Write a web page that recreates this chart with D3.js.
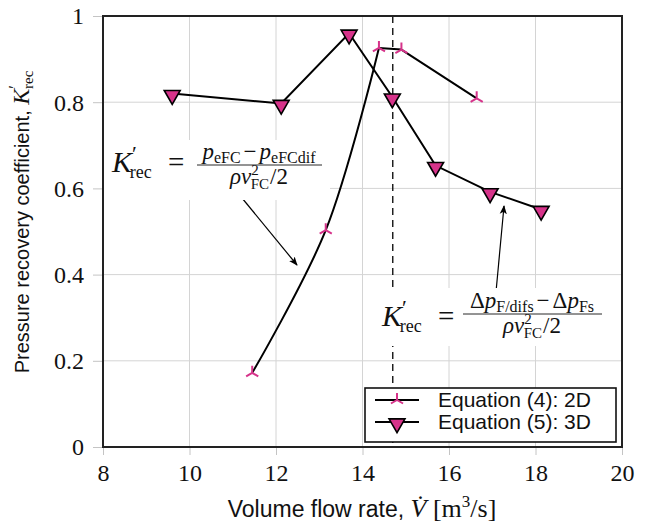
<!DOCTYPE html>
<html><head><meta charset="utf-8">
<script src="https://cdn.jsdelivr.net/npm/d3@7"></script>
<style>
html,body{margin:0;padding:0;background:#fff;}
svg{display:block;}
</style></head>
<body>
<svg id="chart" width="646" height="526"></svg>
<script>
// ---- data ----
const xTicks = [8, 10, 12, 14, 16, 18, 20];
const xTickLabels = ["8", "10", "12", "14", "16", "18", "20"];
const yTicks = [0, 0.2, 0.4, 0.6, 0.8, 1];
const yTickLabels = ["0", "0.2", "0.4", "0.6", "0.8", "1"];
const flow2D = [11.45, 13.15, 14.38, 14.9, 16.64];
const k2D = [0.172, 0.503, 0.926, 0.922, 0.809];
const flow3D = [9.6, 12.12, 13.69, 14.69, 15.69, 16.95, 18.13];
const k3D = [0.82, 0.797, 0.96, 0.812, 0.653, 0.592, 0.551];
const designFlow = [14.7];
const seriesNames = ["Equation (4): 2D", "Equation (5): 3D"];

const pink = "#d6338a";
const svg = d3.select("#chart");
const M = {left: 103, right: 622, top: 16, bottom: 447};
const x = d3.scaleLinear().domain([8, 20]).range([M.left, M.right]);
const y = d3.scaleLinear().domain([0, 1]).range([M.bottom, M.top]);
const serif = "'Liberation Serif', 'Times New Roman', serif";
const sans = "'Liberation Sans', Arial, Helvetica, sans-serif";

// grid
const grid = svg.append("g");
grid.selectAll(".gx").data(xTicks.slice(1, -1)).enter().append("line")
  .attr("x1", d => x(d)).attr("x2", d => x(d)).attr("y1", M.top).attr("y2", M.bottom)
  .attr("stroke", "#d4d4d4").attr("stroke-width", 1);
grid.selectAll(".gy").data(yTicks.slice(1, -1)).enter().append("line")
  .attr("y1", d => y(d)).attr("y2", d => y(d)).attr("x1", M.left).attr("x2", M.right)
  .attr("stroke", "#d4d4d4").attr("stroke-width", 1);

// axes via d3 axis
const xAxis = svg.append("g").attr("transform", `translate(0,${M.bottom})`)
  .call(d3.axisBottom(x).tickValues(xTicks).tickFormat((d, i) => xTickLabels[i]).tickSize(8).tickPadding(8));
const yAxis = svg.append("g").attr("transform", `translate(${M.left},0)`)
  .call(d3.axisLeft(y).tickValues(yTicks).tickFormat((d, i) => yTickLabels[i]).tickSize(10).tickPadding(9));
[xAxis, yAxis].forEach(a => {
  a.select(".domain").remove();
  a.selectAll(".tick line").attr("stroke", "#c4c4c4");
  a.selectAll(".tick text").attr("font-family", serif).attr("font-size", 24).attr("fill", "#111");
});
xAxis.selectAll(".tick text").attr("dy", "0.75em");
yAxis.selectAll(".tick text").attr("dy", "0.33em");

// dashed design line
svg.selectAll(".design").data(designFlow).enter().append("line")
  .attr("x1", d => x(d)).attr("x2", d => x(d)).attr("y1", M.top).attr("y2", M.bottom)
  .attr("stroke", "#000").attr("stroke-width", 1.3).attr("stroke-dasharray", "7,5");

// series lines
const pts2 = flow2D.map((f, i) => [f, k2D[i]]);
const pts3 = flow3D.map((f, i) => [f, k3D[i]]);
const lineSmooth = d3.line().x(d => x(d[0])).y(d => y(d[1])).curve(d3.curveCatmullRom.alpha(0.5));
const lineStraight = d3.line().x(d => x(d[0])).y(d => y(d[1]));
svg.append("path").attr("d", lineSmooth(pts2.slice(0, 3)) + lineStraight(pts2.slice(2)).replace(/^M/, "L"))
  .attr("fill", "none").attr("stroke", "#000").attr("stroke-width", 2).attr("stroke-linejoin", "round");
svg.append("path").attr("d", lineStraight(pts3)).attr("fill", "none").attr("stroke", "#000").attr("stroke-width", 2);

// marker helpers
function triMarker(g, cx, cy) {
  g.append("path").attr("d", d3.symbol(d3.symbolTriangle, 110)())
    .attr("transform", `translate(${cx},${cy + 1.5}) rotate(180)`)
    .attr("fill", pink).attr("stroke", "#000").attr("stroke-width", 1.6).attr("stroke-linejoin", "miter");
}
function yMarker(g, cx, cy) {
  const r = 7;
  const path = `M${cx},${cy}L${cx},${cy - r}M${cx},${cy}L${cx - r * 0.866},${cy + r * 0.5}M${cx},${cy}L${cx + r * 0.866},${cy + r * 0.5}`;
  g.append("path").attr("d", path).attr("stroke", pink).attr("stroke-width", 2).attr("fill", "none");
}
const mk = svg.append("g");
pts2.forEach(p => yMarker(mk, x(p[0]), y(p[1])));
pts3.forEach(p => triMarker(mk, x(p[0]), y(p[1])));

// frame
svg.append("rect").attr("x", M.left).attr("y", M.top).attr("width", M.right - M.left).attr("height", M.bottom - M.top)
  .attr("fill", "none").attr("stroke", "#222").attr("stroke-width", 2);

// arrows
const defs = svg.append("defs");
defs.append("marker").attr("id", "ah").attr("viewBox", "0 0 10 10").attr("refX", 9).attr("refY", 5)
  .attr("markerWidth", 9).attr("markerHeight", 9).attr("orient", "auto").attr("markerUnits", "userSpaceOnUse")
  .append("path").attr("d", "M0,1 L10,5 L0,9 L2.5,5 Z").attr("fill", "#000");
svg.append("line").attr("x1", 242).attr("y1", 198).attr("x2", 297).attr("y2", 265)
  .attr("stroke", "#000").attr("stroke-width", 1.2).attr("marker-end", "url(#ah)");
svg.append("line").attr("x1", 496).attr("y1", 292).attr("x2", 504).attr("y2", 206)
  .attr("stroke", "#000").attr("stroke-width", 1.2).attr("marker-end", "url(#ah)");

// formula helper
function addK(g, xk, base) {
  const t = g.append("text").attr("x", xk).attr("y", base).attr("font-family", serif).attr("fill", "#111");
  t.append("tspan").attr("font-size", 30).attr("font-style", "italic").text("K");
  t.append("tspan").attr("font-size", 22).attr("dy", -11).attr("dx", 0).text("′");
  t.append("tspan").attr("font-size", 18).attr("dy", 17).attr("dx", -7).text("rec");
  g.append("text").attr("x", xk + 56).attr("y", base).attr("font-family", serif).attr("font-size", 29).attr("fill", "#111").text("=");
}
function frac(g, cx, barY, x1, x2, numParts, denParts) {
  const n = g.append("text").attr("x", cx).attr("y", barY - 6).attr("text-anchor", "middle").attr("font-family", serif).attr("fill", "#111");
  numParts.forEach(p => n.append("tspan").attr("font-size", p.s).attr("font-style", p.i ? "italic" : null).attr("dy", p.dy || 0).attr("dx", p.dx || 0).text(p.t));
  g.append("line").attr("x1", x1).attr("x2", x2).attr("y1", barY).attr("y2", barY).attr("stroke", "#111").attr("stroke-width", 0.9);
  const d = g.append("text").attr("x", cx).attr("y", barY + 19).attr("text-anchor", "middle").attr("font-family", serif).attr("fill", "#111");
  denParts.forEach(p => d.append("tspan").attr("font-size", p.s).attr("font-style", p.i ? "italic" : null).attr("dy", p.dy || 0).attr("dx", p.dx || 0).text(p.t));
}
const den = [
  {t: "ρv", s: 23, i: true},
  {t: "2", s: 15, dy: -9},
  {t: "FC", s: 15, dy: 14, dx: -8},
  {t: "/2", s: 23, dy: -5, dx: 1}
];

// formula 1
const f1 = svg.append("g");
f1.append("rect").attr("x", 104).attr("y", 140).attr("width", 226).attr("height", 60).attr("fill", "#fff");
addK(f1, 112, 172);
frac(f1, 259, 165, 197, 322, [
  {t: "p", s: 23, i: true}, {t: "eFC", s: 16, dy: 4}, {t: "−", s: 23, dy: -4, dx: 3},
  {t: "p", s: 23, i: true, dx: 3}, {t: "eFCdif", s: 16, dy: 4}
], den);

// formula 2
const f2 = svg.append("g");
f2.append("rect").attr("x", 372).attr("y", 288).attr("width", 238).attr("height", 58).attr("fill", "#fff");
addK(f2, 382, 326);
frac(f2, 532, 314, 463, 602, [
  {t: "Δ", s: 23}, {t: "p", s: 23, i: true}, {t: "F/difs", s: 16, dy: 4}, {t: "−", s: 23, dy: -4, dx: 3},
  {t: "Δ", s: 23, dx: 3}, {t: "p", s: 23, i: true}, {t: "Fs", s: 16, dy: 4}
], den);

// legend
const lg = svg.append("g");
lg.append("rect").attr("x", 365).attr("y", 388).attr("width", 251).attr("height", 54)
  .attr("fill", "#fff").attr("stroke", "#111").attr("stroke-width", 1.6);
const rows = [407, 429];
seriesNames.forEach((name, i) => {
  const cy = rows[i] - 7;
  lg.append("line").attr("x1", 375).attr("x2", 419).attr("y1", cy).attr("y2", cy).attr("stroke", "#000").attr("stroke-width", 2);
  if (i === 0) yMarker(lg, 397, cy); else triMarker(lg, 397, cy);
  lg.append("text").attr("x", 438).attr("y", rows[i]).attr("font-family", sans).attr("font-size", 21).attr("fill", "#111").text(name);
});

// axis labels
const xl = svg.append("text").attr("x", 362).attr("y", 517).attr("text-anchor", "middle").attr("fill", "#111");
xl.append("tspan").attr("font-family", sans).attr("font-size", 23).text("Volume flow rate, ");
xl.append("tspan").attr("font-family", serif).attr("font-size", 26).attr("font-style", "italic").text("V\u0307");
xl.append("tspan").attr("font-family", serif).attr("font-size", 26).text(" [m");
xl.append("tspan").attr("font-family", serif).attr("font-size", 17).attr("dy", -10).text("3");
xl.append("tspan").attr("font-family", serif).attr("font-size", 26).attr("dy", 10).text("/s]");

const yl = svg.append("text").attr("transform", "translate(29,222) rotate(-90)").attr("text-anchor", "middle").attr("fill", "#111");
yl.append("tspan").attr("font-family", sans).attr("font-size", 20).text("Pressure recovery coefficient, ");
yl.append("tspan").attr("font-family", serif).attr("font-size", 24).attr("font-style", "italic").text("K");
yl.append("tspan").attr("font-family", serif).attr("font-size", 17).attr("dy", -9).text("′");
yl.append("tspan").attr("font-family", serif).attr("font-size", 15).attr("dy", 13).attr("dx", -4).text("rec");
</script>
</body></html>
